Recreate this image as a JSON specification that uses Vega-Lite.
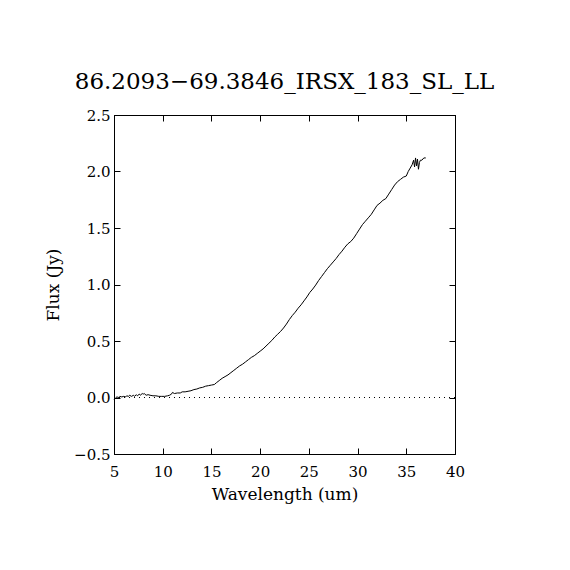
{
  "$schema": "https://vega.github.io/schema/vega-lite/v6.json",
  "width": 341,
  "height": 339,
  "autosize": {"type": "none"},
  "padding": {"left": 114, "top": 115, "right": 115, "bottom": 116},
  "background": "white",
  "title": {
    "text": "86.2093−69.3846_IRSX_183_SL_LL",
    "font": "DejaVu Serif",
    "fontSize": 23,
    "fontWeight": "normal",
    "color": "black",
    "anchor": "middle",
    "offset": 14
  },
  "config": {
    "view": {"stroke": "black", "strokeWidth": 1},
    "axis": {
      "grid": false,
      "domainColor": "black",
      "domainWidth": 1,
      "tickColor": "black",
      "tickWidth": 1,
      "labelColor": "black",
      "titleColor": "black",
      "labelFont": "DejaVu Serif",
      "titleFont": "DejaVu Serif",
      "labelFontSize": 15,
      "titleFontSize": 17,
      "titleFontWeight": "normal"
    }
  },
  "data": {
    "values": [
      {"wl": 5.0, "flux": -0.02}, {"wl": 5.1, "flux": -0.01}, {"wl": 5.2, "flux": 0.0},
      {"wl": 5.3, "flux": 0.005}, {"wl": 5.5, "flux": 0.0}, {"wl": 5.6, "flux": 0.01},
      {"wl": 5.8, "flux": 0.005}, {"wl": 6.0, "flux": 0.01}, {"wl": 6.2, "flux": 0.005},
      {"wl": 6.3, "flux": 0.015}, {"wl": 6.5, "flux": 0.01}, {"wl": 6.6, "flux": 0.02},
      {"wl": 6.8, "flux": 0.01}, {"wl": 7.0, "flux": 0.02}, {"wl": 7.1, "flux": 0.01},
      {"wl": 7.3, "flux": 0.025}, {"wl": 7.4, "flux": 0.015}, {"wl": 7.6, "flux": 0.03},
      {"wl": 7.7, "flux": 0.02}, {"wl": 7.9, "flux": 0.035}, {"wl": 8.0, "flux": 0.03},
      {"wl": 8.1, "flux": 0.035}, {"wl": 8.3, "flux": 0.02}, {"wl": 8.5, "flux": 0.025},
      {"wl": 8.7, "flux": 0.02}, {"wl": 9.0, "flux": 0.015}, {"wl": 9.3, "flux": 0.015},
      {"wl": 9.6, "flux": 0.01}, {"wl": 9.9, "flux": 0.01}, {"wl": 10.2, "flux": 0.01},
      {"wl": 10.5, "flux": 0.015}, {"wl": 10.7, "flux": 0.02}, {"wl": 10.9, "flux": 0.03},
      {"wl": 11.0, "flux": 0.045}, {"wl": 11.2, "flux": 0.035}, {"wl": 11.5, "flux": 0.04},
      {"wl": 11.8, "flux": 0.04}, {"wl": 12.0, "flux": 0.05}, {"wl": 12.3, "flux": 0.05},
      {"wl": 12.6, "flux": 0.055}, {"wl": 12.9, "flux": 0.06}, {"wl": 13.2, "flux": 0.07},
      {"wl": 13.5, "flux": 0.075}, {"wl": 13.8, "flux": 0.085}, {"wl": 14.1, "flux": 0.09},
      {"wl": 14.4, "flux": 0.1}, {"wl": 14.7, "flux": 0.105}, {"wl": 15.0, "flux": 0.11},
      {"wl": 15.3, "flux": 0.115}, {"wl": 15.5, "flux": 0.13}, {"wl": 15.8, "flux": 0.15},
      {"wl": 16.1, "flux": 0.17}, {"wl": 16.4, "flux": 0.185}, {"wl": 16.7, "flux": 0.2},
      {"wl": 17.0, "flux": 0.22}, {"wl": 17.3, "flux": 0.24}, {"wl": 17.6, "flux": 0.26},
      {"wl": 17.9, "flux": 0.28}, {"wl": 18.2, "flux": 0.295}, {"wl": 18.5, "flux": 0.315},
      {"wl": 18.8, "flux": 0.335}, {"wl": 19.1, "flux": 0.355}, {"wl": 19.4, "flux": 0.37},
      {"wl": 19.7, "flux": 0.39}, {"wl": 20.0, "flux": 0.41}, {"wl": 20.3, "flux": 0.43},
      {"wl": 20.6, "flux": 0.455}, {"wl": 20.9, "flux": 0.48}, {"wl": 21.2, "flux": 0.505},
      {"wl": 21.5, "flux": 0.535}, {"wl": 21.8, "flux": 0.56}, {"wl": 22.1, "flux": 0.585},
      {"wl": 22.4, "flux": 0.615}, {"wl": 22.7, "flux": 0.65}, {"wl": 23.0, "flux": 0.69},
      {"wl": 23.3, "flux": 0.725}, {"wl": 23.6, "flux": 0.755}, {"wl": 23.9, "flux": 0.79},
      {"wl": 24.2, "flux": 0.82}, {"wl": 24.5, "flux": 0.855}, {"wl": 24.8, "flux": 0.89},
      {"wl": 25.1, "flux": 0.93}, {"wl": 25.4, "flux": 0.96}, {"wl": 25.7, "flux": 0.995},
      {"wl": 26.0, "flux": 1.035}, {"wl": 26.3, "flux": 1.07}, {"wl": 26.6, "flux": 1.105},
      {"wl": 26.9, "flux": 1.14}, {"wl": 27.2, "flux": 1.17}, {"wl": 27.5, "flux": 1.2},
      {"wl": 27.8, "flux": 1.23}, {"wl": 28.1, "flux": 1.265}, {"wl": 28.4, "flux": 1.295},
      {"wl": 28.7, "flux": 1.33}, {"wl": 29.0, "flux": 1.36}, {"wl": 29.3, "flux": 1.38},
      {"wl": 29.6, "flux": 1.41}, {"wl": 29.9, "flux": 1.45}, {"wl": 30.2, "flux": 1.49},
      {"wl": 30.5, "flux": 1.53}, {"wl": 30.8, "flux": 1.56}, {"wl": 31.1, "flux": 1.59},
      {"wl": 31.4, "flux": 1.62}, {"wl": 31.7, "flux": 1.66}, {"wl": 32.0, "flux": 1.7},
      {"wl": 32.3, "flux": 1.72}, {"wl": 32.6, "flux": 1.745}, {"wl": 32.9, "flux": 1.76},
      {"wl": 33.2, "flux": 1.8}, {"wl": 33.5, "flux": 1.84}, {"wl": 33.8, "flux": 1.88},
      {"wl": 34.1, "flux": 1.91}, {"wl": 34.4, "flux": 1.93}, {"wl": 34.7, "flux": 1.95},
      {"wl": 35.0, "flux": 1.96}, {"wl": 35.2, "flux": 2.0}, {"wl": 35.4, "flux": 2.03},
      {"wl": 35.6, "flux": 2.06}, {"wl": 35.75, "flux": 2.1}, {"wl": 35.85, "flux": 2.04},
      {"wl": 35.95, "flux": 2.12}, {"wl": 36.05, "flux": 2.05}, {"wl": 36.15, "flux": 2.11},
      {"wl": 36.25, "flux": 2.02}, {"wl": 36.35, "flux": 2.08}, {"wl": 36.45, "flux": 2.1},
      {"wl": 36.6, "flux": 2.1}, {"wl": 36.8, "flux": 2.12}, {"wl": 37.0, "flux": 2.12}
    ]
  },
  "layer": [
    {
      "mark": {"type": "line", "color": "black", "strokeWidth": 1},
      "encoding": {
        "x": {
          "field": "wl",
          "type": "quantitative",
          "scale": {"domain": [5, 40], "nice": false, "zero": false},
          "axis": {
            "orient": "bottom",
            "title": "Wavelength (um)",
            "values": [5, 10, 15, 20, 25, 30, 35, 40],
            "tickSize": -6,
            "labelPadding": 16,
            "titlePadding": 7,
            "labelFlush": false
          }
        },
        "y": {
          "field": "flux",
          "type": "quantitative",
          "scale": {"domain": [-0.5, 2.5], "nice": false, "zero": false},
          "axis": {
            "orient": "left",
            "title": "Flux (Jy)",
            "values": [-0.5, 0, 0.5, 1, 1.5, 2, 2.5],
            "format": ".1f",
            "tickSize": -6,
            "labelPadding": 10,
            "titlePadding": 11,
            "labelFlush": false
          }
        }
      }
    },
    {
      "mark": {"type": "rule", "color": "black", "strokeWidth": 1, "strokeDash": [1, 4]},
      "encoding": {
        "x": {
          "datum": 5,
          "type": "quantitative",
          "axis": {
            "orient": "top",
            "title": null,
            "labels": false,
            "values": [5, 10, 15, 20, 25, 30, 35, 40],
            "tickSize": -6
          }
        },
        "x2": {"datum": 40},
        "y": {
          "datum": 0,
          "type": "quantitative",
          "axis": {
            "orient": "right",
            "title": null,
            "labels": false,
            "values": [-0.5, 0, 0.5, 1, 1.5, 2, 2.5],
            "tickSize": -6
          }
        }
      }
    }
  ],
  "resolve": {"axis": {"x": "independent", "y": "independent"}}
}
